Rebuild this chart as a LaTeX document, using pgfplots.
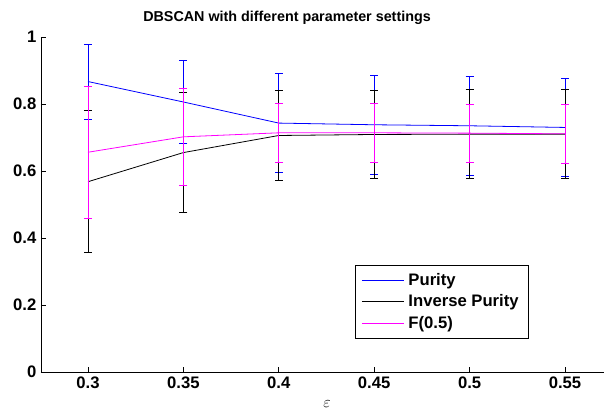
\documentclass[border=0pt]{standalone}
\usepackage{fontspec}
\setmainfont{Liberation Sans}
\usepackage{pgfplots}
\usepackage{pgfplotstable}
\pgfplotsset{compat=1.18}

\pgfplotstableread{
x y e
0.30 0.867 0.112
0.35 0.806 0.125
0.40 0.743 0.147
0.45 0.738 0.148
0.50 0.735 0.148
0.55 0.730 0.147
}\purity
\pgfplotstableread{
x y e
0.30 0.568 0.212
0.35 0.655 0.179
0.40 0.706 0.134
0.45 0.709 0.132
0.50 0.710 0.133
0.55 0.710 0.133
}\invpurity
\pgfplotstableread{
x y e
0.30 0.656 0.197
0.35 0.702 0.144
0.40 0.714 0.087
0.45 0.714 0.087
0.50 0.713 0.087
0.55 0.711 0.087
}\fhalf

\definecolor{mblue}{RGB}{0,0,255}
\definecolor{mmag}{RGB}{255,0,255}

\begin{document}
\begin{tikzpicture}
\begin{axis}[
  name=ax,
  scale only axis,
  width=422.25pt, height=251.25pt,
  xmin=0.27537, xmax=0.57044, ymin=0, ymax=1,
  axis x line=bottom, axis y line=left,
  axis line style={-, line width=0.6pt, black},
  xtick={0.3,0.35,0.4,0.45,0.5,0.55},
  xticklabels={0.3,0.35,0.4,0.45,0.5,0.55},
  ytick={0,0.2,0.4,0.6,0.8,1},
  yticklabels={0,0.2,0.4,0.6,0.8,1},
  tick align=inside, major tick length=3.75pt,
  tick style={line width=0.6pt, black},
  tick label style={font=\bfseries\fontsize{12.5}{14}\selectfont},
  title={DBSCAN with different parameter settings},
  title style={at={(0.437,1.039)}, anchor=base, yshift=-4.5pt, font=\bfseries\fontsize{10.75}{12}\selectfont, inner sep=0pt},
  xlabel={$\varepsilon$},
  xlabel style={at={(0.508,0)}, anchor=north, yshift=-21.5pt, inner sep=0pt, font=\fontsize{12.5}{14}\selectfont},
  legend style={at={(0.5577,0.3194)}, anchor=north west, draw=black, line width=0.6pt,
    font=\bfseries\fontsize{12.5}{14}\selectfont, inner xsep=4.5pt, inner ysep=3.4pt,
    nodes={inner sep=2.7pt}, row sep=0pt},
  legend cell align=left,
  legend image code/.code={\draw[#1, line width=0.6pt] (0pt,0pt) -- (32pt,0pt);},
  every axis plot/.append style={line width=0.6pt, mark=none},
  error bars/error bar style={line width=0.6pt},
  error bars/error mark options={rotate=90, mark size=3pt, line width=0.6pt},
]
\addplot[mblue, error bars/.cd, y dir=both, y explicit] table[x=x, y=y, y error=e] {\purity};
\addlegendentry{Purity}
\addplot[black, error bars/.cd, y dir=both, y explicit] table[x=x, y=y, y error=e] {\invpurity};
\addlegendentry{Inverse Purity}
\addplot[mmag, error bars/.cd, y dir=both, y explicit] table[x=x, y=y, y error=e] {\fhalf};
\addlegendentry{F(0.5)}
\end{axis}
\pgfresetboundingbox
\path[use as bounding box] ([shift={(-30.75pt,-28.5pt)}]ax.south west) rectangle ([shift={(0pt,27.75pt)}]ax.north east);
\end{tikzpicture}
\end{document}
